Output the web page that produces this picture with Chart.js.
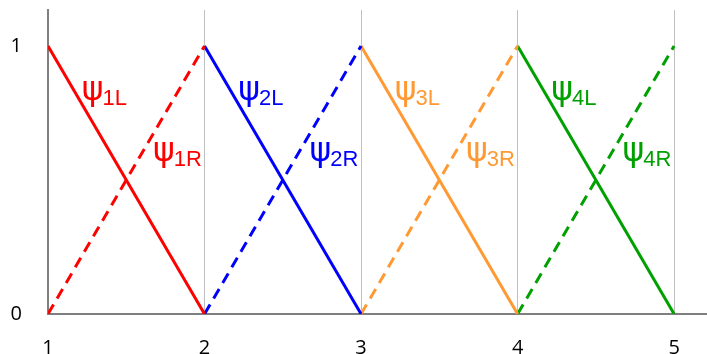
<!DOCTYPE html>
<html>
<head>
<meta charset="utf-8">
<script src="https://cdn.jsdelivr.net/npm/chart.js@4"></script>
<style>
html,body{margin:0;padding:0;background:#fff;}
#wrap{width:707px;height:354px;}
</style>
</head>
<body>
<div id="wrap"><canvas id="c" width="707" height="354"></canvas></div>
<script>
// ---- data ----
const xTicks = [1, 2, 3, 4, 5];
const yTicks = [0, 1];
const basisIndex = [1, 2, 3, 4];
const leftX = [[1, 2], [2, 3], [3, 4], [4, 5]];
const leftY = [1, 0];
const rightX = [[1, 2], [2, 3], [3, 4], [4, 5]];
const rightY = [0, 1];
const colors = ['#FF0000', '#0000FF', '#FF9933', '#00A000'];
const labelL = ['1L', '2L', '3L', '4L'];
const labelR = ['1R', '2R', '3R', '4R'];

// annotation placement (data coords)
const lblLdx = 0.215, lblLy = 0.80;
const lblRdx = 0.67, lblRy = 0.57;

const datasets = [];
basisIndex.forEach((n, i) => {
  datasets.push({
    label: 'psi' + labelL[i],
    data: leftX[i].map((x, k) => ({x: x, y: leftY[k]})),
    borderColor: colors[i], borderWidth: 3, pointRadius: 0, showLine: true, fill: false
  });
  datasets.push({
    label: 'psi' + labelR[i],
    data: rightX[i].map((x, k) => ({x: x, y: rightY[k]})),
    borderColor: colors[i], borderWidth: 3, borderDash: [11, 7], pointRadius: 0, showLine: true, fill: false
  });
});

const psiLabels = {
  id: 'psiLabels',
  afterDatasetsDraw(chart) {
    const ctx = chart.ctx, xs = chart.scales.x, ys = chart.scales.y;
    ctx.save();
    ctx.textBaseline = 'alphabetic';
    ctx.textAlign = 'left';
    const draw = (xv, yv, sub, col) => {
      const px = xs.getPixelForValue(xv), py = ys.getPixelForValue(yv);
      ctx.fillStyle = col;
      ctx.font = '33px "DejaVu Sans"';
      ctx.fillText('\u03C8', px, py);
      const w = ctx.measureText('\u03C8').width;
      ctx.font = '22px "Liberation Sans"';
      ctx.fillText(sub, px + w - 1, py + 5);
    };
    basisIndex.forEach((n, i) => {
      draw(n + lblLdx, lblLy, labelL[i], colors[i]);
      draw(n + lblRdx, lblRy, labelR[i], colors[i]);
    });
    ctx.restore();
  }
};

new Chart(document.getElementById('c'), {
  type: 'scatter',
  data: { datasets },
  options: {
    responsive: false,
    animation: false,
    devicePixelRatio: 1,
    layout: { padding: { top: 10, right: 0, left: 0, bottom: 0 } },
    plugins: { legend: { display: false }, tooltip: { enabled: false } },
    scales: {
      x: {
        type: 'linear', min: 1, max: 5.21,
        afterBuildTicks: s => { s.ticks = xTicks.map(v => ({value: v})); },
        afterFit: s => { s.height = 40; s.paddingLeft = 0; s.paddingRight = 0; },
        ticks: { color: '#000', font: { family: '"Open Sans"', size: 20 }, padding: 22 },
        grid: { color: c => (c.tick && c.tick.value === 1) ? 'rgba(0,0,0,0)' : '#BFBFBF', lineWidth: 1, drawTicks: false },
        border: { color: '#7F7F7F', width: 2 }
      },
      y: {
        type: 'linear', min: 0, max: 1.134,
        afterBuildTicks: s => { s.ticks = yTicks.map(v => ({value: v})); },
        afterFit: s => { s.width = 48; s.paddingTop = 0; s.paddingBottom = 0; },
        ticks: { color: '#000', font: { family: '"Open Sans"', size: 20 }, padding: 26 },
        grid: { display: false, drawTicks: false },
        border: { color: '#7F7F7F', width: 2 }
      }
    }
  },
  plugins: [psiLabels]
});
</script>
</body>
</html>
